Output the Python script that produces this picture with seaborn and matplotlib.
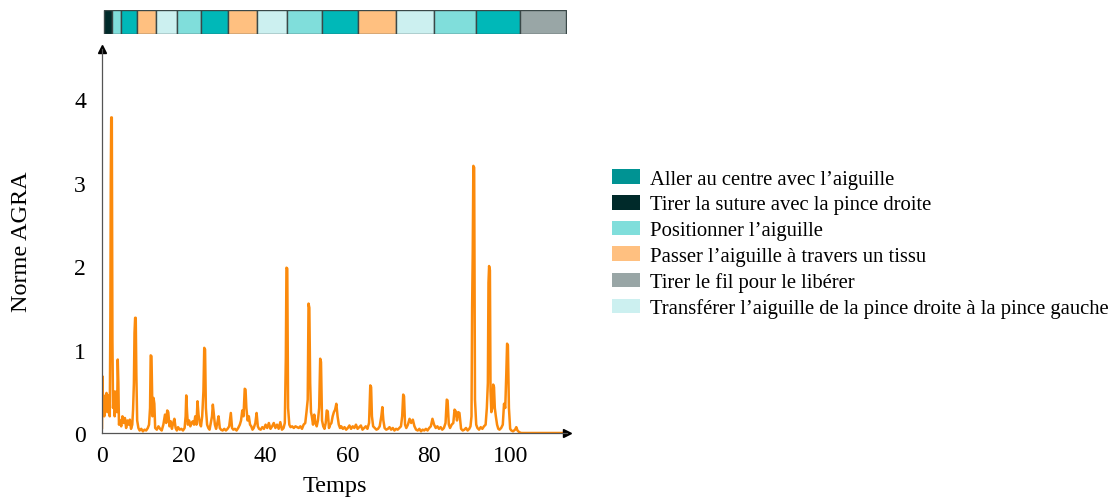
import matplotlib
matplotlib.use("Agg")
import matplotlib.pyplot as plt
import seaborn as sns
import numpy as np
from matplotlib.patches import Patch

# signal AGRA (temps, norme)
temps = [0.0, 0.1, 0.25, 0.4, 0.55, 0.7, 0.9, 1.1, 1.3, 1.5, 1.7, 1.9, 2.05, 2.15, 2.25, 2.4, 2.55, 2.7, 2.9, 3.1,
         3.3, 3.5, 3.7, 3.85, 4.0, 4.15, 4.4, 4.7, 5.0, 5.3, 5.6, 5.9, 6.2, 6.5, 6.8, 7.1, 7.4, 7.6, 7.8, 7.95,
         8.1, 8.25, 8.4, 8.6, 8.9, 9.2, 9.6, 10.0,
         10.4, 10.8, 11.2, 11.5, 11.75, 11.9, 12.1, 12.35, 12.6, 12.8, 13.0, 13.4, 13.8, 14.2, 14.6, 15.0, 15.4,
         15.7, 15.95, 16.2, 16.5, 16.8, 17.1, 17.4, 17.7, 18.0, 18.3, 18.6, 19.0, 19.4, 19.8,
         20.2, 20.45, 20.6, 20.8, 21.0, 21.3, 21.6, 21.9, 22.2, 22.5, 22.8, 23.1, 23.35, 23.6, 23.9, 24.2, 24.5,
         24.8, 25.0, 25.2, 25.4, 25.7, 26.0, 26.3, 26.6, 26.9, 27.1, 27.3, 27.6, 27.9, 28.2, 28.5, 28.8, 29.1,
         29.5, 29.9,
         30.3, 30.7, 31.1, 31.5, 31.8, 32.1, 32.5, 32.9, 33.3, 33.7, 34.0, 34.3, 34.6, 34.9, 35.1, 35.3, 35.6,
         35.9, 36.2, 36.5, 36.8, 37.1, 37.5, 37.8, 38.1, 38.4, 38.8, 39.2, 39.6, 40.0,
         40.4, 40.8, 41.2, 41.6, 42.0, 42.4, 42.8, 43.2, 43.6, 44.0, 44.4, 44.7, 44.95, 45.1, 45.3, 45.5, 45.8,
         46.1, 46.5, 46.9, 47.3, 47.7, 48.1, 48.5, 48.9, 49.3, 49.7, 50.0, 50.3,
         50.5, 50.7, 50.9, 51.1, 51.3, 51.6, 51.9, 52.2, 52.5, 52.8, 53.1, 53.35, 53.55, 53.8, 54.1, 54.4, 54.7,
         54.95, 55.2, 55.5, 55.8, 56.1, 56.4, 56.7, 57.0, 57.3, 57.6, 57.9, 58.2, 58.5, 58.9, 59.3, 59.7,
         60.1, 60.5, 60.9, 61.3, 61.7, 62.1, 62.5, 62.9, 63.3, 63.7, 64.1, 64.5, 64.9, 65.3, 65.6, 65.8, 66.0,
         66.3, 66.7, 67.1, 67.5, 67.9, 68.3, 68.55, 68.8, 69.1, 69.5, 69.9,
         70.3, 70.7, 71.1, 71.5, 71.9, 72.3, 72.7, 73.1, 73.4, 73.65, 73.85, 74.1, 74.4, 74.8, 75.2, 75.6, 76.0,
         76.4, 76.8, 77.2, 77.6, 78.0, 78.4, 78.8, 79.2, 79.6, 80.0,
         80.4, 80.8, 81.2, 81.6, 82.0, 82.4, 82.8, 83.2, 83.6, 84.0, 84.3, 84.5, 84.8, 85.1, 85.5, 85.9, 86.2,
         86.5, 86.8, 87.1, 87.4, 87.8, 88.2, 88.6, 89.0, 89.4, 89.8, 90.1, 90.35,
         90.5, 90.65, 90.8, 91.0, 91.2, 91.5, 91.8, 92.2, 92.6, 93.0, 93.4, 93.8, 94.1, 94.35, 94.5, 94.65, 94.85,
         95.0, 95.2, 95.45, 95.65, 95.85, 96.05, 96.3, 96.6, 96.9, 97.2, 97.6, 98.0, 98.3, 98.6, 98.85, 99.05,
         99.25, 99.5, 99.8, 100.1,
         100.5, 101.0, 101.3, 101.6, 102.0, 102.5, 113.0]
norme = [0.05, 0.68, 0.35, 0.45, 0.2, 0.42, 0.3, 0.48, 0.25, 0.38, 0.45, 0.2, 1.4, 3.05, 3.78, 3.78, 1.1, 0.3, 0.5, 0.2,
         0.35, 0.5, 0.25, 0.88, 0.6, 0.1, 0.15, 0.08, 0.2, 0.12, 0.18, 0.06, 0.15, 0.1, 0.16, 0.05, 0.1, 0.28, 0.6, 1.2,
         1.38, 1.38, 0.7, 0.15, 0.06, 0.03, 0.05, 0.02,
         0.04, 0.03, 0.06, 0.1, 0.3, 0.93, 0.92, 0.2, 0.42, 0.35, 0.06, 0.04, 0.08, 0.05, 0.03, 0.1, 0.22,
         0.12, 0.27, 0.25, 0.08, 0.14, 0.05, 0.12, 0.17, 0.06, 0.03, 0.07, 0.04, 0.05, 0.03,
         0.06, 0.2, 0.45, 0.25, 0.1, 0.15, 0.08, 0.12, 0.14, 0.1, 0.2, 0.1, 0.38, 0.22, 0.12, 0.08, 0.2,
         0.5, 1.02, 1.0, 0.3, 0.1, 0.06, 0.04, 0.12, 0.2, 0.34, 0.25, 0.1, 0.05, 0.12, 0.2, 0.06, 0.04,
         0.03, 0.05,
         0.03, 0.05, 0.08, 0.24, 0.06, 0.04, 0.05, 0.03, 0.06, 0.1, 0.15, 0.27, 0.2, 0.53, 0.52, 0.3, 0.15,
         0.2, 0.1, 0.08, 0.04, 0.06, 0.12, 0.24, 0.08, 0.05, 0.04, 0.07, 0.05, 0.1,
         0.06, 0.12, 0.05, 0.08, 0.12, 0.06, 0.1, 0.05, 0.13, 0.04, 0.06, 0.12, 0.9, 1.98, 1.97, 0.3, 0.1,
         0.07, 0.08, 0.06, 0.08, 0.07, 0.06, 0.08, 0.05, 0.1, 0.12, 0.25, 0.4,
         1.55, 1.5, 0.6, 0.25, 0.2, 0.1, 0.22, 0.12, 0.08, 0.15, 0.3, 0.89, 0.85, 0.15, 0.08, 0.05, 0.12,
         0.27, 0.26, 0.06, 0.1, 0.12, 0.2, 0.25, 0.28, 0.35, 0.2, 0.1, 0.06, 0.08, 0.05, 0.07, 0.04,
         0.06, 0.09, 0.05, 0.08, 0.06, 0.1, 0.05, 0.07, 0.09, 0.04, 0.06, 0.08, 0.05, 0.12, 0.57, 0.55, 0.2,
         0.08, 0.06, 0.04, 0.05, 0.08, 0.2, 0.31, 0.15, 0.06, 0.04, 0.05,
         0.07, 0.04, 0.06, 0.03, 0.05, 0.04, 0.06, 0.08, 0.2, 0.46, 0.44, 0.1, 0.06, 0.1, 0.17, 0.12, 0.16,
         0.08, 0.04, 0.03, 0.05, 0.02, 0.04, 0.03, 0.05, 0.03, 0.06,
         0.08, 0.17, 0.1, 0.06, 0.08, 0.05, 0.07, 0.04, 0.06, 0.12, 0.4, 0.39, 0.1, 0.06, 0.1, 0.12, 0.28,
         0.26, 0.15, 0.25, 0.24, 0.05, 0.03, 0.04, 0.06, 0.03, 0.05, 0.08, 0.2,
         1.5, 2.15, 3.2, 3.18, 0.4, 0.1, 0.06, 0.04, 0.07, 0.05, 0.08, 0.1, 0.3, 0.6, 1.8, 2.0, 1.95,
         0.5, 0.25, 0.3, 0.58, 0.55, 0.3, 0.2, 0.1, 0.05, 0.04, 0.06, 0.1, 0.35, 0.3, 0.7, 1.07,
         1.05, 0.3, 0.05, 0.03,
         0.02, 0.04, 0.07, 0.03, 0.01, 0.0, 0.0]

# gestes (legende) et couleurs
gestes = ["Aller au centre avec l’aiguille",
          "Tirer la suture avec la pince droite",
          "Positionner l’aiguille",
          "Passer l’aiguille à travers un tissu",
          "Tirer le fil pour le libérer",
          "Transférer l’aiguille de la pince droite à la pince gauche"]
couleurs_barre = ["#00b8b8", "#002a2a", "#80dedb", "#ffc080", "#99a6a6", "#ccf0f0"]
couleurs_legende = ["#009393", "#002a2a", "#80dedb", "#ffc080", "#99a6a6", "#ccf0f0"]

# segmentation temporelle (bornes en temps) et geste de chaque segment
bornes = [0.56, 2.5, 4.6, 8.5, 13.1, 18.3, 24.2, 30.9, 38.0, 45.3, 53.7, 62.7, 71.9, 81.2, 91.4, 102.2, 113.4]
sequence = [1, 2, 0, 3, 5, 2, 0, 3, 5, 2, 0, 3, 5, 2, 0, 4]

sns.set_theme(style="white")
plt.rcParams['font.family'] = ['Liberation Serif', 'DejaVu Serif']
plt.rcParams['text.color'] = 'black'

fig = plt.figure(figsize=(11.18, 5.02), dpi=100)
xmax = 113.7
ax = fig.add_axes([102 / 1118, 68 / 502, (567 - 102) / 1118, (434 - 50) / 502])

sns.lineplot(x=temps, y=norme, ax=ax, color="#fb8a0c", linewidth=1.8, estimator=None, sort=False)
ax.set_xlim(0, xmax)
ax.set_ylim(0, 4.6)
ax.set_xticks([0, 20, 40, 60, 80, 100])
ax.set_yticks([0, 1, 2, 3, 4])
ax.tick_params(axis="both", direction="inout", length=7, width=0.8, color="#888888",
               labelsize=17, labelcolor="black")
ax.tick_params(axis="y", pad=8)
ax.tick_params(axis="x", length=4, pad=7)
for s in ["top", "right"]:
    ax.spines[s].set_visible(False)
ax.spines["left"].set_color("#555555")
ax.spines["bottom"].set_color("#555555")
ax.spines["left"].set_linewidth(0.9)
ax.spines["bottom"].set_linewidth(0.9)
ax.plot(1, 0, ">", color="black", markersize=6, transform=ax.transAxes, clip_on=False)
ax.plot(0, 1, "^", color="black", markersize=6, transform=ax.transAxes, clip_on=False)
ax.set_xlabel("Temps", fontsize=17.5, labelpad=6, color="black")
ax.set_ylabel("Norme AGRA", fontsize=17.5, labelpad=30, color="black")

# barre de segmentation en haut
axb = fig.add_axes([102 / 1118, (502 - 35) / 502, (567 - 102) / 1118, 24 / 502])
debuts = bornes[:-1]
largeurs = [b - a for a, b in zip(bornes[:-1], bornes[1:])]
axb.barh([0] * len(sequence), largeurs, left=debuts, height=1.0,
         color=[couleurs_barre[k] for k in sequence], edgecolor="#3a4848", linewidth=1.0)
axb.set_xlim(0, xmax)
axb.set_ylim(-0.5, 0.5)
axb.axis("off")

handles = [Patch(facecolor=c, edgecolor="none") for c in couleurs_legende]
leg = fig.legend(handles, gestes, loc="upper left", bbox_to_anchor=(612 / 1118, (502 - 170) / 502),
                 frameon=False, handlelength=1.35, handleheight=0.72, handletextpad=0.48,
                 labelspacing=0.3, borderpad=0, borderaxespad=0, labelcolor="black",
                 prop={"family": "Liberation Serif", "size": 14.9})

fig.savefig("out.png", dpi=100)
